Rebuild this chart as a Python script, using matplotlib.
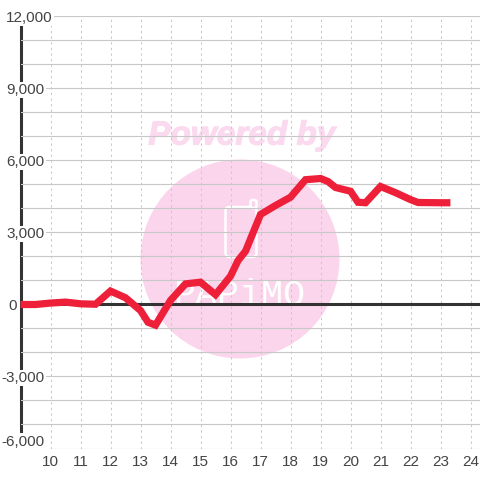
import matplotlib
matplotlib.use("Agg")
import matplotlib.pyplot as plt
from matplotlib.patches import Circle, FancyBboxPatch
from matplotlib.transforms import IdentityTransform
import matplotlib.patheffects as pe

hours = [9, 9.5, 10, 10.5, 11, 11.5, 12, 12.5, 13, 13.25, 13.5, 14, 14.5, 15, 15.5, 16, 16.25, 16.5,
         17, 17.5, 18, 18.5, 19, 19.25, 19.5, 20, 20.25, 20.5, 21, 21.5, 22, 22.25, 23, 23.33]
values = [0, 0, 60, 100, 30, 10, 560, 280, -250, -740, -860, 170, 860, 930, 410, 1180, 1830, 2220,
          3750, 4125, 4470, 5200, 5250, 5125, 4875, 4720, 4260, 4240, 4917, 4660, 4370, 4250, 4240, 4240]
x_ticks = list(range(10, 25))
y_major = [-6000, -3000, 0, 3000, 6000, 9000, 12000]
y_grid = list(range(-6000, 13000, 1000))
watermark_top = "Powered by"
watermark_name = "PAPiMO"

PINK = "#fbd5ec"
W, H = 480, 480
plt.rcParams["font.family"] = ["Liberation Sans", "DejaVu Sans"]
fig = plt.figure(figsize=(W / 100, H / 100), dpi=100, facecolor="white")
left, top, bottom = 20.5, 16.5, 448.5
ax = fig.add_axes([left / W, 1 - bottom / H, 1 - left / W, (bottom - top) / H])
ax.set_xlim(9, 9 + (W - left) / 30)
ax.set_ylim(-6000, 12000)

for s in ("top", "right", "bottom"):
    ax.spines[s].set_visible(False)
sp = ax.spines["left"]
sp.set_linewidth(2.2)
sp.set_color("#333333")
sp.set_bounds(-5460, 11667)
sp.set_zorder(0.4)

ax.set_axisbelow(True)
ax.set_xticks(x_ticks)
ax.set_yticks(y_grid)
ax.set_yticklabels([f"{v:,}" if v in y_major else "" for v in y_grid])
ax.grid(True, axis="y", color="#c8c8c8", lw=0.8, ls="-")
ax.grid(True, axis="x", color="#c8c8c8", lw=0.75, ls=(0, (2.2, 3.2)))
ax.tick_params(length=0, labelsize=11, labelcolor="#444444")
ax.tick_params(axis="x", pad=5)
for t, v in zip(ax.yaxis.get_major_ticks(), y_grid):
    t.label1.set_horizontalalignment("left")
    t.set_pad(13.6 if v < 0 else (9 if v == 0 else 10.2))
    if v in y_major and v != 0:
        t.label1.set_bbox(dict(facecolor="white", edgecolor="none", pad=1))
    if v == -6000:
        t.label1.set_verticalalignment("bottom")

# watermark, placed in pixels
def px(x, y):
    return x, H - y
tr = IdentityTransform()
ax.add_patch(Circle(px(240, 259), 99.5, transform=tr, fc=PINK, ec="none", zorder=0.1, clip_on=False))
ax.add_patch(FancyBboxPatch(px(225.5, 257), 31, 50, boxstyle="round,pad=0,rounding_size=4", transform=tr,
                            fc="none", ec="white", lw=1.8, zorder=0.2, clip_on=False))
ax.add_patch(FancyBboxPatch(px(250.5, 208), 6, 8, boxstyle="round,pad=0,rounding_size=2", transform=tr,
                            fc=PINK, ec="white", lw=1.8, zorder=0.2, clip_on=False))
x0, y0 = px(242, 144.5)
ax.text(x0, y0, watermark_top, transform=tr, weight="bold", style="italic",
        fontsize=24, color="#fbd9ef", ha="center", va="baseline", zorder=0.2,
        path_effects=[pe.withStroke(linewidth=0.8, foreground="#fbd9ef")])
x1, y1 = px(239, 305)
ax.text(x1, y1, watermark_name, transform=tr, family="Liberation Mono", fontsize=26.5, color="white",
        ha="center", va="baseline", zorder=0.2)

ax.axhline(0, color="#333333", lw=2.2, zorder=1.5)
ax.plot(hours, values, color="#ee2039", lw=5.2, solid_joinstyle="miter",
        solid_capstyle="butt", zorder=3, clip_on=False)

fig.savefig("out.png", dpi=100)
